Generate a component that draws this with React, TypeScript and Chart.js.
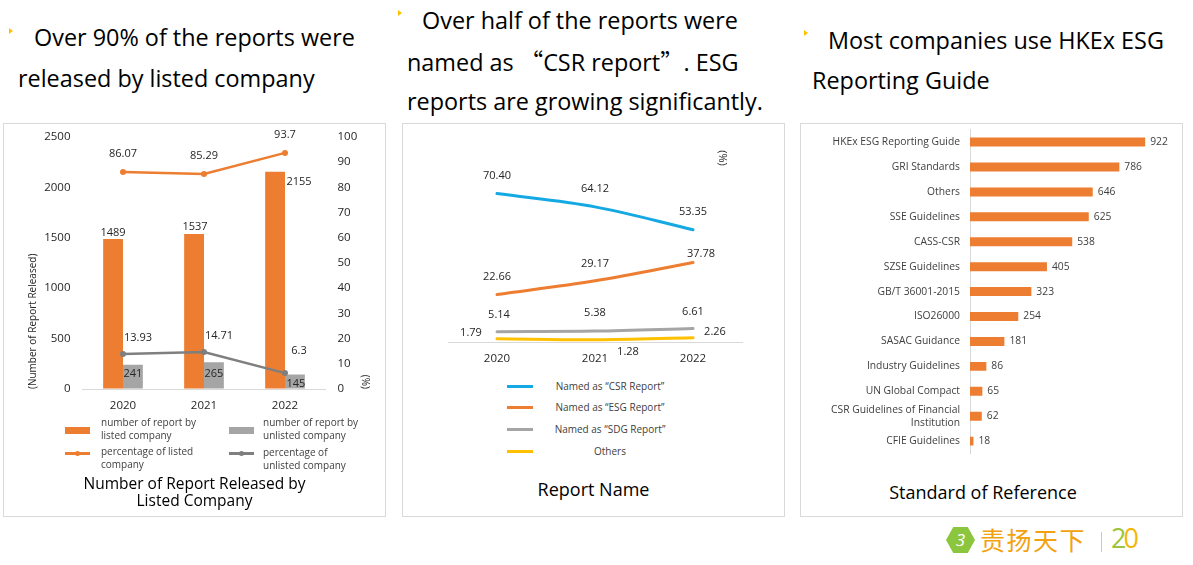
import React, { useEffect, useRef } from 'react';
import { Chart, registerables } from 'chart.js';

Chart.register(...registerables);

// ---------------- data ----------------
const YEARS = ['2020', '2021', '2022'];
const LISTED_REPORTS = [1489, 1537, 2155];
const UNLISTED_REPORTS = [241, 265, 145];
const LISTED_SHARE = [86.07, 85.29, 93.7];
const UNLISTED_SHARE = [13.93, 14.71, 6.3];

const CSR_NAMED = [70.4, 64.12, 53.35];
const ESG_NAMED = [22.66, 29.17, 37.78];
const SDG_NAMED = [5.14, 5.38, 6.61];
const OTHER_NAMED = [1.79, 1.28, 2.26];

const STANDARDS: (string | string[])[] = [
  'HKEx ESG Reporting Guide',
  'GRI Standards',
  'Others',
  'SSE Guidelines',
  'CASS-CSR',
  'SZSE Guidelines',
  'GB/T 36001-2015',
  'ISO26000',
  'SASAC Guidance',
  'Industry Guidelines',
  'UN Global Compact',
  ['CSR Guidelines of Financial', 'Institution'],
  'CFIE Guidelines',
];
const STANDARD_USERS = [922, 786, 646, 625, 538, 405, 323, 254, 181, 86, 65, 62, 18];

// ---------------- styles ----------------
const ORANGE = '#ED7D31';
const GRAY = '#A5A5A5';
const DARK_GRAY = '#7F7F7F';
const BLUE = '#14A9E3';
const YELLOW = '#FFC000';
const AXIS = '#D9D9D9';
const TEXT = '#404040';
const INK = '#262626';
const FONT = '"Open Sans", "Noto Sans", sans-serif';

type LabelCfg = {
  datasetIndex: number;
  offsets: [number, number][];
  anchor?: 'point' | 'center';
  align?: CanvasTextAlign;
  size: number;
  color: string;
  decimals?: number;
};
type Extra = { text: string; x: number; y: number; rotate: number; size: number; color: string };

function labelPlugin(id: string, cfgs: LabelCfg[], extras: Extra[] = []) {
  return {
    id,
    afterDatasetsDraw(chart: any) {
      const ctx = chart.ctx as CanvasRenderingContext2D;
      ctx.save();
      ctx.textBaseline = 'middle';
      cfgs.forEach((cfg) => {
        const meta = chart.getDatasetMeta(cfg.datasetIndex);
        const data = chart.data.datasets[cfg.datasetIndex].data as number[];
        meta.data.forEach((el: any, j: number) => {
          let x = el.x;
          let y = el.y;
          if (cfg.anchor === 'center') {
            const p = el.getCenterPoint();
            x = p.x;
            y = p.y;
          }
          const [dx, dy] = cfg.offsets[j] || cfg.offsets[0];
          ctx.font = `${cfg.size}px ${FONT}`;
          ctx.fillStyle = cfg.color;
          ctx.textAlign = cfg.align || 'center';
          const v = data[j];
          const txt = cfg.decimals !== undefined ? v.toFixed(cfg.decimals) : String(v);
          ctx.fillText(txt, x + dx, y + dy);
        });
      });
      extras.forEach((e) => {
        ctx.save();
        ctx.translate(e.x, e.y);
        ctx.rotate(e.rotate);
        ctx.font = `${e.size}px ${FONT}`;
        ctx.fillStyle = e.color;
        ctx.textAlign = 'center';
        ctx.fillText(e.text, 0, 0);
        ctx.restore();
      });
      ctx.restore();
    },
  };
}

function useChart(ref: React.RefObject<HTMLCanvasElement | null>, make: () => any) {
  useEffect(() => {
    if (!ref.current) return;
    const chart = new Chart(ref.current, make());
    return () => chart.destroy();
  }, []);
}

// invisible tick marks give the label gap without adding vertical padding
const gapGrid = (len: number) => ({
  display: true,
  drawOnChartArea: false,
  drawTicks: true,
  tickLength: len,
  color: 'rgba(0,0,0,0)',
});

// ---------------- charts ----------------
function ListedChart() {
  const ref = useRef<HTMLCanvasElement>(null);
  useChart(ref, () => ({
    type: 'bar',
    data: {
      labels: YEARS,
      datasets: [
        {
          type: 'line',
          label: 'percentage of listed company',
          data: LISTED_SHARE,
          yAxisID: 'y1',
          borderColor: ORANGE,
          backgroundColor: ORANGE,
          borderWidth: 2.5,
          pointRadius: 3,
          pointBorderWidth: 0,
          pointBackgroundColor: ORANGE,
          order: 0,
        },
        {
          type: 'line',
          label: 'percentage of unlisted company',
          data: UNLISTED_SHARE,
          yAxisID: 'y1',
          borderColor: DARK_GRAY,
          backgroundColor: DARK_GRAY,
          borderWidth: 2.5,
          pointRadius: 3,
          pointBorderWidth: 0,
          pointBackgroundColor: DARK_GRAY,
          order: 0,
        },
        {
          type: 'bar',
          label: 'number of report by listed company',
          data: LISTED_REPORTS,
          yAxisID: 'y',
          backgroundColor: ORANGE,
          barPercentage: 1,
          categoryPercentage: 0.49,
          order: 1,
        },
        {
          type: 'bar',
          label: 'number of report by unlisted company',
          data: UNLISTED_REPORTS,
          yAxisID: 'y',
          backgroundColor: GRAY,
          barPercentage: 1,
          categoryPercentage: 0.49,
          order: 1,
        },
      ],
    },
    options: {
      responsive: false,
      animation: false,
      layout: { padding: { left: 18, right: 10.5, top: 14, bottom: 4 } },
      plugins: { legend: { display: false }, tooltip: { enabled: false } },
      scales: {
        x: {
          grid: { display: false, drawTicks: false },
          border: { display: true, color: AXIS },
          ticks: { padding: 10, color: INK, font: { family: FONT, size: 11.5 } },
          afterFit: (s: any) => {
            s.height = 30;
          },
        },
        y: {
          position: 'left',
          min: 0,
          max: 2500,
          grid: gapGrid(12),
          border: { display: false },
          ticks: {
            stepSize: 500,
            padding: 0,
            color: INK,
            font: { family: FONT, size: 11.5 },
            callback: (v: any) => String(v),
          },
          title: {
            display: true,
            text: '(Number of Report Released)',
            align: 'start',
            color: INK,
            padding: { top: 6, bottom: 0 },
            font: { family: FONT, size: 10 },
          },
          afterFit: (s: any) => {
            s.width = 61.5;
          },
        },
        y1: {
          position: 'right',
          min: 0,
          max: 100,
          grid: gapGrid(12),
          border: { display: false },
          ticks: {
            stepSize: 10,
            padding: 0,
            color: INK,
            font: { family: FONT, size: 11.5 },
            callback: (v: any) => String(v),
          },
          title: {
            display: true,
            text: '(%)',
            align: 'start',
            color: INK,
            padding: { top: 4.5, bottom: 0 },
            font: { family: FONT, size: 10 },
          },
          afterFit: (s: any) => {
            s.width = 50;
          },
        },
      },
    },
    plugins: [
      labelPlugin('listedLabels', [
        { datasetIndex: 0, offsets: [[0, -18], [0, -18], [0, -18]], size: 11, color: INK },
        { datasetIndex: 1, offsets: [[15, -16], [15, -16], [14, -22]], size: 11, color: INK },
        { datasetIndex: 2, offsets: [[0, -6], [1, -7], [24, 10]], size: 11, color: INK },
        { datasetIndex: 3, offsets: [[0, -3], [0, -2], [1, 2]], anchor: 'center', size: 11, color: INK },
      ]),
    ],
  }));
  return (
    <canvas
      ref={ref}
      width={383}
      height={300}
      style={{ position: 'absolute', left: 3, top: 123, width: 383, height: 300 }}
    />
  );
}

function NameChart() {
  const ref = useRef<HTMLCanvasElement>(null);
  const line = (label: string, data: number[], color: string) => ({
    label,
    data,
    borderColor: color,
    backgroundColor: color,
    borderWidth: 3,
    pointRadius: 0,
    tension: 0.35,
    borderCapStyle: 'round',
  });
  useChart(ref, () => ({
    type: 'line',
    data: {
      labels: YEARS,
      datasets: [
        line('Named as “CSR Report”', CSR_NAMED, BLUE),
        line('Named as “ESG Report”', ESG_NAMED, ORANGE),
        line('Named as “SDG Report”', SDG_NAMED, GRAY),
        line('Others', OTHER_NAMED, YELLOW),
      ],
    },
    options: {
      responsive: false,
      animation: false,
      layout: { padding: { left: 45, right: 43, top: 8, bottom: 5.5 } },
      plugins: { legend: { display: false }, tooltip: { enabled: false } },
      scales: {
        x: {
          offset: true,
          grid: { display: false, drawTicks: false },
          border: { display: true, color: AXIS },
          ticks: { padding: 9, color: INK, font: { family: FONT, size: 11.5 } },
          afterFit: (s: any) => {
            s.height = 25;
          },
        },
        y: { display: false, min: 0, max: 100 },
      },
    },
    plugins: [
      labelPlugin(
        'nameLabels',
        [
          { datasetIndex: 0, offsets: [[0, -18], [0, -18], [0, -18]], size: 11, color: INK, decimals: 2 },
          { datasetIndex: 1, offsets: [[0, -18], [0, -17], [8, -9]], size: 11, color: INK, decimals: 2 },
          { datasetIndex: 2, offsets: [[2, -17], [0, -18], [0, -17]], size: 11, color: INK, decimals: 2 },
          { datasetIndex: 3, offsets: [[-26, -6], [33, 12], [22, -6]], size: 11, color: INK, decimals: 2 },
        ],
        [{ text: '(%)', x: 319, y: 35, rotate: Math.PI / 2, size: 11, color: INK }]
      ),
    ],
  }));
  return (
    <canvas
      ref={ref}
      width={382}
      height={250}
      style={{ position: 'absolute', left: 403, top: 123, width: 382, height: 250 }}
    />
  );
}

function StandardChart() {
  const ref = useRef<HTMLCanvasElement>(null);
  useChart(ref, () => ({
    type: 'bar',
    data: {
      labels: STANDARDS,
      datasets: [
        {
          label: 'Standard of Reference',
          data: STANDARD_USERS,
          backgroundColor: ORANGE,
          barPercentage: 1,
          categoryPercentage: 0.36,
        },
      ],
    },
    options: {
      indexAxis: 'y',
      responsive: false,
      animation: false,
      layout: { padding: { left: 0, right: 23, top: 6.6, bottom: 9.4 } },
      plugins: { legend: { display: false }, tooltip: { enabled: false } },
      scales: {
        x: { display: false, min: 0, max: 1000 },
        y: {
          grid: gapGrid(10),
          border: { display: true, color: AXIS },
          ticks: {
            autoSkip: false,
            padding: 0,
            color: TEXT,
            font: { family: FONT, size: 10.3, lineHeight: 1.25 },
          },
          afterFit: (s: any) => {
            s.width = 170;
          },
        },
      },
    },
    plugins: [
      labelPlugin('standardLabels', [
        { datasetIndex: 0, offsets: [[5, 0]], align: 'left', size: 10.3, color: TEXT },
      ]),
    ],
  }));
  return (
    <canvas
      ref={ref}
      width={383}
      height={340}
      style={{ position: 'absolute', left: 800, top: 123, width: 383, height: 340 }}
    />
  );
}

// ---------------- html helpers ----------------
const abs = (left: number, top: number, extra: React.CSSProperties = {}): React.CSSProperties => ({
  position: 'absolute',
  left,
  top,
  whiteSpace: 'nowrap',
  ...extra,
});

function Heading({ x, y, text }: { x: number; y: number; text: React.ReactNode }) {
  return <div style={abs(x, y, { fontSize: 23.4, lineHeight: '24px', color: '#000' })}>{text}</div>;
}

function Bullet({ x, y }: { x: number; y: number }) {
  return (
    <div
      style={abs(x, y, {
        width: 0,
        height: 0,
        borderLeft: `4px solid ${YELLOW}`,
        borderTop: '3.5px solid transparent',
        borderBottom: '3.5px solid transparent',
      })}
    />
  );
}

const Q = ({ children }: { children: React.ReactNode }) => (
  <span style={{ fontFamily: '"Noto Sans CJK SC", sans-serif' }}>{children}</span>
);

function Panel({ x }: { x: number }) {
  return (
    <div
      style={abs(x, 123, {
        width: 383,
        height: 394,
        border: `1px solid ${AXIS}`,
        boxSizing: 'border-box',
      })}
    />
  );
}

function LegendText({ x, y, lines }: { x: number; y: number; lines: string[] }) {
  return (
    <div style={abs(x, y, { fontSize: 10, lineHeight: '13px', color: TEXT })}>
      {lines.map((l, i) => (
        <div key={i}>{l}</div>
      ))}
    </div>
  );
}

export default function App() {
  return (
    <div
      style={{
        position: 'absolute',
        left: 0,
        top: 0,
        width: 1193,
        height: 565,
        overflow: 'hidden',
        background: '#fff',
        fontFamily: FONT,
      }}
    >
      {/* headings */}
      <Bullet x={9} y={28} />
      <Heading x={34} y={25} text="Over 90% of the reports were" />
      <Heading x={18} y={66} text="released by listed company" />

      <Bullet x={398} y={10} />
      <Heading x={422} y={8} text="Over half of the reports were" />
      <Heading
        x={407}
        y={49}
        text={
          <>
            named as <Q>“</Q>CSR report<Q>”</Q>. ESG
          </>
        }
      />
      <Heading x={407} y={89} text="reports are growing significantly." />

      <Bullet x={804} y={30} />
      <Heading x={828} y={28} text="Most companies use HKEx ESG" />
      <Heading x={812} y={68} text="Reporting Guide" />

      {/* panels */}
      <Panel x={3} />
      <Panel x={402} />
      <Panel x={800} />

      <ListedChart />
      <NameChart />
      <StandardChart />

      {/* left legend */}
      <div style={abs(65, 427, { width: 25, height: 7, background: ORANGE })} />
      <LegendText x={101} y={415.5} lines={['number of report by', 'listed company']} />
      <div style={abs(229, 427, { width: 25, height: 7, background: GRAY })} />
      <LegendText x={263} y={415.5} lines={['number of report by', 'unlisted company']} />
      <div style={abs(65, 451.5, { width: 25, height: 3, background: ORANGE })} />
      <div style={abs(75, 450.5, { width: 5, height: 5, borderRadius: 3, background: ORANGE })} />
      <LegendText x={101} y={444.5} lines={['percentage of listed', 'company']} />
      <div style={abs(229, 451.5, { width: 25, height: 3, background: DARK_GRAY })} />
      <div style={abs(239, 450.5, { width: 5, height: 5, borderRadius: 3, background: DARK_GRAY })} />
      <LegendText x={263} y={445.5} lines={['percentage of', 'unlisted company']} />
      <div
        style={abs(3, 474.5, {
          width: 383,
          textAlign: 'center',
          fontSize: 15.5,
          lineHeight: '17px',
          color: '#000',
        })}
      >
        <div>Number of Report Released by</div>
        <div>Listed Company</div>
      </div>

      {/* middle legend */}
      {[
        { t: 'Named as “CSR Report”', c: BLUE, y: 386 },
        { t: 'Named as “ESG Report”', c: ORANGE, y: 407 },
        { t: 'Named as “SDG Report”', c: GRAY, y: 429 },
        { t: 'Others', c: YELLOW, y: 451 },
      ].map((it) => (
        <React.Fragment key={it.t}>
          <div style={abs(507, it.y - 1.5, { width: 26, height: 3, background: it.c })} />
          <div
            style={abs(550, it.y - 7, {
              width: 120,
              textAlign: 'center',
              fontSize: 10,
              lineHeight: '14px',
              color: TEXT,
            })}
          >
            {it.t}
          </div>
        </React.Fragment>
      ))}
      <div style={abs(402, 479, { width: 383, textAlign: 'center', fontSize: 18, lineHeight: '20px', color: '#000' })}>
        Report Name
      </div>

      {/* right title */}
      <div style={abs(800, 482, { width: 366, textAlign: 'center', fontSize: 18, lineHeight: '20px', color: '#000' })}>
        Standard of Reference
      </div>

      {/* logo */}
      <div
        style={abs(946, 527, {
          width: 29,
          height: 26,
          background: '#8CC63F',
          clipPath: 'polygon(25% 0, 75% 0, 100% 50%, 75% 100%, 25% 100%, 0 50%)',
          color: '#fff',
          fontSize: 17,
          lineHeight: '26px',
          textAlign: 'center',
          fontStyle: 'italic',
        })}
      >
        3
      </div>
      <div
        style={abs(980, 523, {
          fontFamily: '"Noto Sans CJK SC", sans-serif',
          fontSize: 25,
          lineHeight: '32px',
          color: '#F3A20F',
          letterSpacing: 1.5,
        })}
      >
        责扬天下
      </div>
      <div style={abs(1101, 532, { width: 1, height: 20, background: '#C8C8C8' })} />
      <div style={abs(1111, 522, { fontSize: 27, lineHeight: '32px', fontWeight: 400, letterSpacing: -3 })}>
        <span style={{ color: '#9DC43A' }}>2</span>
        <span style={{ color: '#F2B705' }}>0</span>
      </div>
    </div>
  );
}
